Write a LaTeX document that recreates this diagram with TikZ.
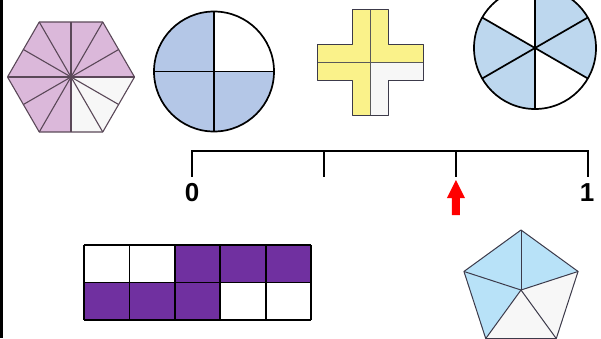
\documentclass[tikz,border=0pt]{standalone}
\usepackage{fontspec}
\setsansfont{Liberation Sans}
\usetikzlibrary{arrows.meta, positioning, calc}
\definecolor{cmauve}{HTML}{DBB8DA}
\definecolor{cmauveedge}{HTML}{5A4858}
\definecolor{coffwhite}{HTML}{F7F7F7}
\definecolor{cblue}{HTML}{B4C7E7}
\definecolor{cskyblue}{HTML}{BDD7EE}
\definecolor{cicyblue}{HTML}{B8E2F8}
\definecolor{cyellow}{HTML}{FAF28A}
\definecolor{cpurple}{HTML}{7030A0}
\definecolor{cslate}{HTML}{3C3A4A}
\definecolor{cred}{HTML}{FF0000}
\newcommand{\ticklabelfont}{\sffamily\bfseries\fontsize{26}{28}\selectfont}
\tikzset{
  every picture/.style={x=1pt, y=-1pt, line join=round},
  thin edge/.style={draw=#1, line width=1.1pt},
  thin edge/.default=cslate,
  thick edge/.style={draw=black, line width=1.7pt},
  lbl/.style={inner sep=0pt, font=\ticklabelfont},
}

\begin{document}
\begin{tikzpicture}[
    axis/.style={draw=black, line width=2pt, line cap=rect},
    cell/.style={draw=black, line width=1.8pt}]
  \useasboundingbox (0,0) rectangle (601,338);
  \clip (0,0) rectangle (601,338);
  \fill[black] (0,0) rectangle (2.5,338);

  % ---- hexagon in twelfths
  \coordinate (hex) at (71,77);
  \fill[cmauve] (hex) ++(0:63.5) \foreach \a in {60,120,...,300} { -- ($(hex)+(\a:63.5)$) } -- cycle;
  \fill[coffwhite] (hex) -- +(0:63.5) -- +(30:55) -- +(60:63.5) -- +(90:55) -- cycle;
  \foreach \a in {0,60,...,300} { \draw[thin edge=cmauveedge] (hex) -- +(\a:63.5); }
  \foreach \a in {30,90,...,330} { \draw[thin edge=cmauveedge] (hex) -- +(\a:55); }
  \draw[thin edge=cmauveedge] (hex) ++(0:63.5) \foreach \a in {60,120,...,300} { -- ($(hex)+(\a:63.5)$) } -- cycle;

  % ---- circle in quarters
  \coordinate (quart) at (214,71.5);
  \fill[cblue] (quart) circle (60);
  \fill[white] (quart) -- +(270:60) arc (270:360:60) -- cycle;
  \draw[thick edge] (quart) circle (60);
  \draw[thick edge] ($(quart)+(-60,0)$) -- ($(quart)+(60,0)$);
  \draw[thick edge] ($(quart)+(0,-60)$) -- ($(quart)+(0,60)$);

  % ---- cross in quarters
  \coordinate (cross) at (370.3,62.3);
  \fill[cyellow] (cross) ++(-18,-53) -- ++(36,0) -- ++(0,35) -- ++(35,0) -- ++(0,36)
    -- ++(-35,0) -- ++(0,35) -- ++(-36,0) -- ++(0,-35) -- ++(-35,0) -- ++(0,-36) -- ++(35,0) -- cycle;
  \fill[coffwhite] (cross) -- ++(53,0) -- ++(0,18) -- ++(-35,0) -- ++(0,35) -- ++(-18,0) -- cycle;
  \draw[thin edge=gray!70!black, line width=0.9pt] ($(cross)+(-53,0)$) -- ($(cross)+(53,0)$);
  \draw[thin edge=gray!70!black, line width=0.9pt] ($(cross)+(0,-53)$) -- ($(cross)+(0,53)$);
  \draw[thin edge] (cross) ++(-18,-53) -- ++(36,0) -- ++(0,35) -- ++(35,0) -- ++(0,36)
    -- ++(-35,0) -- ++(0,35) -- ++(-36,0) -- ++(0,-35) -- ++(-35,0) -- ++(0,-36) -- ++(35,0) -- cycle;

  % ---- circle in sixths
  \coordinate (sixth) at (535,48);
  \fill[cskyblue] (sixth) circle (61);
  \fill[white] (sixth) -- +(210:61) arc (210:270:61) -- cycle;
  \fill[white] (sixth) -- +(30:61) arc (30:90:61) -- cycle;
  \foreach \a in {30,90,...,330} { \draw[thick edge] (sixth) -- +(\a:61); }
  \draw[thick edge] (sixth) circle (61);

  % ---- number line
  \coordinate (zero) at (191.7,150.7);
  \coordinate (one) at (588,150.7);
  \draw[axis] (zero) -- (one);
  \foreach \t in {0,1,2,3}
    { \draw[axis] ($(zero)!\t/3!(one)$) -- ++(0,25); }
  \node[lbl] (lblzero) at (192,192.5) {0};
  \node[lbl] (lblone) at (587,192.5) {1};
  \coordinate (mark) at ($(zero)!2/3!(one)+(0,29.3)$);
  \fill[cred] (mark) -- ++(9,18) -- ++(-5,0) -- ++(0,17) -- ++(-8,0) -- ++(0,-17) -- ++(-5,0) -- cycle;

  % ---- grid in tenths
  \foreach \i/\j/\c in {0/0/white, 1/0/white, 2/0/cpurple, 3/0/cpurple, 4/0/cpurple,
                        0/1/cpurple, 1/1/cpurple, 2/1/cpurple, 3/1/white, 4/1/white}
    { \fill[\c] (84+45.4*\i,245+37.5*\j) rectangle ++(45.4,37.5); }
  \foreach \i in {0,...,5} { \draw[cell] (84+45.4*\i,245) -- ++(0,75); }
  \foreach \j in {0,1,2} { \draw[cell] (84,245+37.5*\j) -- ++(227,0); }

  % ---- pentagon in fifths
  \coordinate (pent) at (521,290);
  \fill[coffwhite] (pent) ++(270:60) \foreach \a in {342,54,126,198} { -- ($(pent)+(\a:60)$) } -- cycle;
  \fill[cicyblue] (pent) -- +(126:60) -- +(198:60) -- +(270:60) -- +(342:60) -- cycle;
  \foreach \a in {270,342,54,126,198} { \draw[thin edge, line width=1pt] (pent) -- +(\a:60); }
  \draw[thin edge, line width=1pt] (pent) ++(270:60) \foreach \a in {342,54,126,198} { -- ($(pent)+(\a:60)$) } -- cycle;
\end{tikzpicture}
\end{document}
